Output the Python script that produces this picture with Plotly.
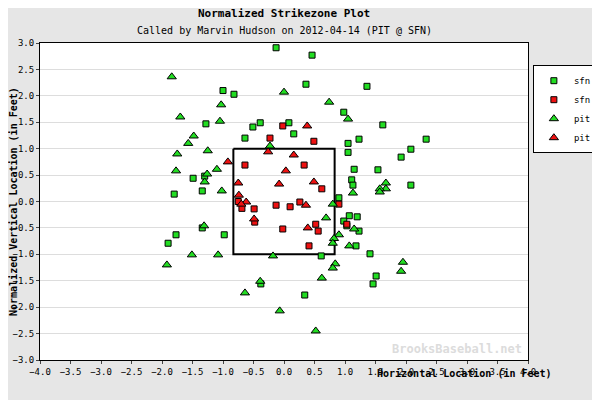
import plotly.graph_objects as go

# sfn called balls (green squares)
sfn_ball_x = [-0.13, 0.46, -1.0, -0.82, 0.36, 1.36, 0.98, -1.28, -0.51, -0.39, 0.08, 0.16, 1.62, -0.64, 1.23,
              1.05, 2.33, 2.08, 1.05, 1.92, 1.15, 1.54, -1.49, -1.3, -1.34, -1.8, 1.11, 1.13, 2.08, 0.9,
              1.07, 1.2, 0.98, 1.03, 1.23, 1.18, 1.41, -1.34, -1.77, -1.9, -0.98, 0.61, 1.51, 1.46, -0.38, 0.34]
sfn_ball_y = [2.91, 2.77, 2.1, 2.03, 2.22, 2.18, 1.69, 1.47, 1.41, 1.49, 1.49, 1.28, 1.45, 1.2, 1.18,
              1.1, 1.18, 0.99, 0.93, 0.84, 0.61, 0.6, 0.44, 0.48, 0.2, 0.14, 0.41, 0.31, 0.31, 0.07,
              -0.27, -0.29, -0.37, -0.46, -0.56, -0.84, -0.99, -0.5, -0.63, -0.79, -0.63, -1.03, -1.41, -1.56, -1.56, -1.77]

# sfn called strikes (red squares)
sfn_strike_x = [-0.02, -0.23, 0.49, -0.64, 0.33, 0.62, -0.75, -0.69, -0.49, -0.13, 0.1, 0.26, 0.9,
                -0.48, -0.02, 0.52, 0.56, 0.41, 1.03]
sfn_strike_y = [1.43, 1.2, 1.14, 0.69, 0.69, 0.24, 0.0, -0.13, -0.14, -0.07, -0.1, -0.01, -0.05,
                -0.39, -0.52, -0.43, -0.56, -0.84, -0.43]

# pit called balls (green triangles)
pit_ball_x = [-0.74, -1.84, 0.0, -1.03, 0.74, -1.7, -1.05, 1.05, -1.48, -1.57, -0.23, -1.25, -1.75, -1.77,
              -1.1, -1.26, -1.3, -1.02, 1.67, 1.67, 1.57, 1.57, 1.13, 0.8, 0.69, -1.31, 1.15, 0.9, 0.82,
              0.8, 1.07, -1.51, -1.08, -0.18, -1.92, 0.84, 0.8, 1.95, 1.92, 0.62, -0.39, -0.64, -0.07, 0.52]
pit_ball_y = [3.1, 2.36, 2.07, 1.83, 1.88, 1.6, 1.52, 1.56, 1.24, 1.1, 1.05, 0.96, 0.9, 0.58,
              0.61, 0.52, 0.37, 0.2, 0.35, 0.24, 0.24, 0.18, 0.16, -0.05, -0.31, -0.46, -0.52, -0.63, -0.7,
              -0.79, -0.84, -1.01, -1.01, -1.03, -1.2, -1.18, -1.26, -1.15, -1.32, -1.45, -1.51, -1.73, -2.07, -2.45]

# pit called strikes (red triangles)
pit_strike_x = [0.38, -0.26, 0.16, -0.92, 0.03, -0.75, -0.08, 0.49, -0.74, -0.62, -0.7, 0.36, -0.49, 0.39]
pit_strike_y = [1.43, 0.94, 0.88, 0.75, 0.58, 0.35, 0.33, 0.37, 0.12, -0.01, -0.05, -0.07, -0.33, -0.5]

zone_x = [-0.83, 0.83, 0.83, -0.83, -0.83]
zone_y = [1.0, 1.0, -1.0, -1.0, 1.0]

x_ticks = [i / 2 for i in range(-8, 9)]
y_ticks = [i / 2 for i in range(-6, 7)]

font = "DejaVu Sans Mono"
green = "#22dd22"
red = "#ee1111"

fig = go.Figure()
fig.add_trace(go.Scatter(x=zone_x, y=zone_y, mode="lines", line=dict(color="black", width=2),
                         showlegend=False, hoverinfo="skip"))
fig.add_trace(go.Scatter(x=sfn_ball_x, y=sfn_ball_y, mode="markers", name="sfn",
                         marker=dict(symbol="square", size=6, color=green, line=dict(color="black", width=1))))
fig.add_trace(go.Scatter(x=sfn_strike_x, y=sfn_strike_y, mode="markers", name="sfn",
                         marker=dict(symbol="square", size=6, color=red, line=dict(color="black", width=1))))
fig.add_trace(go.Scatter(x=pit_ball_x, y=pit_ball_y, mode="markers", name="pit",
                         marker=dict(symbol="triangle-up", size=8, color=green, line=dict(color="black", width=1))))
fig.add_trace(go.Scatter(x=pit_strike_x, y=pit_strike_y, mode="markers", name="pit",
                         marker=dict(symbol="triangle-up", size=8, color=red, line=dict(color="black", width=1))))

# the page body adds an 8px offset, so margins are shifted to compensate
fig.update_layout(
    width=600, height=400,
    margin=dict(l=32, r=80, t=35, b=48, autoexpand=False),
    paper_bgcolor="#e6e6e6", plot_bgcolor="white",
    font=dict(family=font, size=9, color="black"),
    legend=dict(x=1.01, y=0.93, xanchor="left", yanchor="top", bgcolor="white",
                bordercolor="black", borderwidth=1, font=dict(size=9), itemwidth=30, tracegroupgap=0),
    xaxis=dict(range=[-4, 4], tickvals=x_ticks, tickformat=".1f", showgrid=False, zeroline=False,
               showline=True, linecolor="black", ticks="outside", ticklen=3, mirror=True, automargin=False),
    yaxis=dict(range=[-3, 3], tickvals=y_ticks, tickformat=".1f", showgrid=True, gridcolor="#dddddd",
               zeroline=False, showline=True, linecolor="black", ticks="outside", ticklen=3, mirror=True,
               automargin=False),
    annotations=[
        dict(text="<b>Normalized Strikezone Plot</b>", x=0.5, y=1, xref="paper", yref="paper",
             yanchor="bottom", yshift=21, showarrow=False, font=dict(size=11)),
        dict(text="Called by Marvin Hudson on 2012-04-14 (PIT @ SFN)", x=0.5, y=1, xref="paper", yref="paper",
             yanchor="bottom", yshift=5, showarrow=False, font=dict(size=10)),
        dict(text="<b>Horizontal Location (in Feet)</b>", x=0.87, y=0, xref="paper", yref="paper",
             xanchor="center", yanchor="top", yshift=-6, showarrow=False, font=dict(size=10)),
        dict(text="<b>Normalized Vertical Location (in Feet)</b>", x=0, y=0.5, xref="paper", yref="paper",
             xshift=-34, textangle=-90, showarrow=False, font=dict(size=10)),
        dict(text="<b>BrooksBaseball.net</b>", x=1, y=0, xref="paper", yref="paper", xanchor="right",
             yanchor="bottom", xshift=-4, yshift=2, showarrow=False, font=dict(size=12, color="#dcdcdc")),
    ],
)

fig.write_html("out.html")
